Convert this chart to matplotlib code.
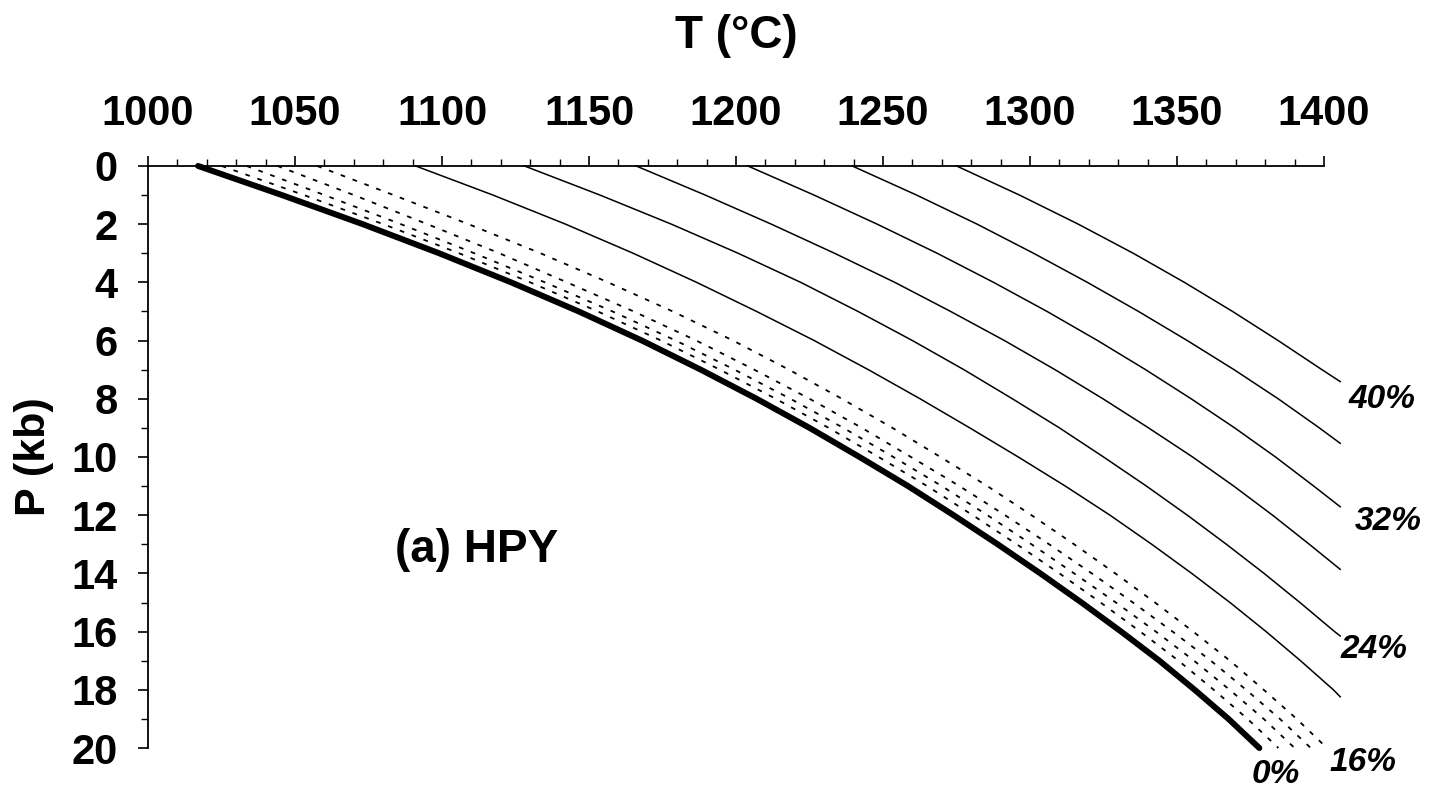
import matplotlib
matplotlib.use("Agg")
import matplotlib.pyplot as plt
from matplotlib.ticker import MultipleLocator

plt.rcParams['font.family'] = ['Liberation Sans', 'DejaVu Sans']
plt.rcParams['font.weight'] = 'bold'

# Melt-fraction isopleths in P-T space: pressure (kb) and temperature (°C)
p_full = [0, 1, 2, 3, 4, 5, 6, 7, 8, 9, 10, 11, 12, 13, 14, 15, 16, 17, 18, 19, 20]
t_0 = [1017, 1045.5, 1073, 1099, 1123.5, 1146.5, 1168, 1188, 1207, 1225, 1242,
       1258.5, 1274, 1289, 1303.5, 1317.5, 1331, 1344, 1356, 1367.5, 1378]
t_4 = [1025, 1053, 1080, 1105.8, 1130, 1153, 1174.5, 1194.5, 1213.5, 1231.5, 1248.5,
       1265, 1280.5, 1295.5, 1310, 1324, 1337.5, 1350.5, 1362.5, 1374, 1384.5]
t_8 = [1033.5, 1060, 1086, 1111, 1135, 1158, 1179.5, 1199.5, 1218.5, 1236.5, 1253.5,
       1270, 1285.5, 1300.5, 1315, 1329.2, 1342.8, 1355.8, 1367.9, 1379.5, 1390]
t_12 = [1044, 1070, 1095, 1119.5, 1142.5, 1165.2, 1186.5, 1206.2, 1225, 1242.8, 1259.5,
        1276, 1291.5, 1306.5, 1321, 1335, 1348.5, 1361.5, 1373.5, 1385, 1395.5]
t_16 = [1057.5, 1083.5, 1109, 1133.5, 1156.5, 1178.5, 1199, 1218, 1236, 1253.2, 1269.5,
        1285.5, 1300.5, 1315, 1329, 1342.5, 1355.5, 1368, 1379.5, 1390.7, 1401]

p_20 = [0, 1, 2, 3, 4, 5, 6, 7, 8, 9, 10, 11, 12, 13, 14, 15, 16, 17, 18, 18.24]
t_20 = [1091, 1117.3, 1142, 1165, 1186.6, 1207, 1226.6, 1245, 1262.6, 1279.5, 1296,
        1312, 1327.2, 1341.4, 1355, 1368, 1380.3, 1392, 1403.2, 1405.5]
p_24 = [0, 1, 2, 3, 4, 5, 6, 7, 8, 9, 10, 11, 12, 13, 14, 15, 16, 16.15]
t_24 = [1128, 1153.7, 1178, 1200.7, 1222, 1241.5, 1260, 1277.5, 1294, 1310, 1325,
        1339.6, 1353.5, 1366.8, 1379.6, 1391.8, 1403.6, 1405.5]
p_28 = [0, 1, 2, 3, 4, 5, 6, 7, 8, 9, 10, 11, 12, 13, 13.86]
t_28 = [1166, 1189.5, 1212, 1233.5, 1254, 1273, 1291.3, 1308.5, 1324.8, 1340.3, 1355.3,
        1369.3, 1382.5, 1395, 1405.5]
p_32 = [0, 1, 2, 3, 4, 5, 6, 7, 8, 9, 10, 11, 11.71]
t_32 = [1204, 1226.5, 1248, 1268.4, 1287.6, 1305.8, 1323, 1339.3, 1354.8, 1369.6, 1383.5,
        1396.5, 1405.5]
p_36 = [0, 1, 2, 3, 4, 5, 6, 7, 8, 9, 9.53]
t_36 = [1239.5, 1261.4, 1282, 1301.2, 1319.5, 1336.9, 1353.5, 1369.4, 1384.4, 1398.4, 1405.5]
p_40 = [0, 1, 2, 3, 4, 5, 6, 7, 7.41]
t_40 = [1275, 1296.4, 1316.4, 1335.1, 1352.5, 1368.9, 1384.4, 1399.3, 1405.5]

fig = plt.figure(figsize=(14.32, 7.94), dpi=100)
ax = fig.add_axes([0.1034, 0.0579, 0.8212, 0.7331])

# 0 % melt: heavy curve
ax.plot(t_0, p_full, color='black', lw=4.3, solid_capstyle='round',
        solid_joinstyle='round', clip_on=False)

# 4-16 %: dashed
for t in (t_4, t_8, t_12, t_16):
    ax.plot(t, p_full, color='black', lw=1.3, linestyle=(0, (2.6, 4.4)), clip_on=False)

# 20-40 %: thin solid
for t, p in ((t_20, p_20), (t_24, p_24), (t_28, p_28),
             (t_32, p_32), (t_36, p_36), (t_40, p_40)):
    ax.plot(t, p, color='black', lw=1.1, clip_on=False)

ax.set_xlim(1000, 1400)
ax.set_ylim(20, 0)
ax.xaxis.tick_top()
ax.spines['right'].set_visible(False)
ax.spines['bottom'].set_visible(False)
for s in ('left', 'top'):
    ax.spines[s].set_linewidth(1.3)

ax.xaxis.set_major_locator(MultipleLocator(50))
ax.xaxis.set_minor_locator(MultipleLocator(10))
ax.yaxis.set_major_locator(MultipleLocator(2))
ax.yaxis.set_minor_locator(MultipleLocator(1))
ax.tick_params(axis='both', which='major', direction='out', length=7, width=1.2,
               labelsize=30)
ax.tick_params(axis='both', which='minor', direction='out', length=5, width=1.0)
ax.tick_params(axis='x', which='major', pad=16)
ax.tick_params(axis='y', which='major', pad=15)

fig.text(0.5145, 0.955, 'T (°C)', ha='center', va='center', fontsize=33,
         fontweight='bold')
fig.text(0.024, 0.4245, 'P (kb)', ha='center', va='center', fontsize=31,
         fontweight='bold', rotation=90)

ax.text(1084, 13.2, '(a) HPY', ha='left', va='center', fontsize=33,
        fontweight='bold')

pct = dict(fontsize=24, fontweight='bold', fontstyle='italic', va='center', ha='left')
ax.text(1408.5, 8.04, '40%', **pct)
ax.text(1410.5, 12.2, '32%', **pct)
ax.text(1405.5, 16.6, '24%', **pct)
ax.text(1402, 20.5, '16%', **pct)
ax.text(1375.5, 20.9, '0%', **pct)

fig.savefig('out.png', dpi=100)
